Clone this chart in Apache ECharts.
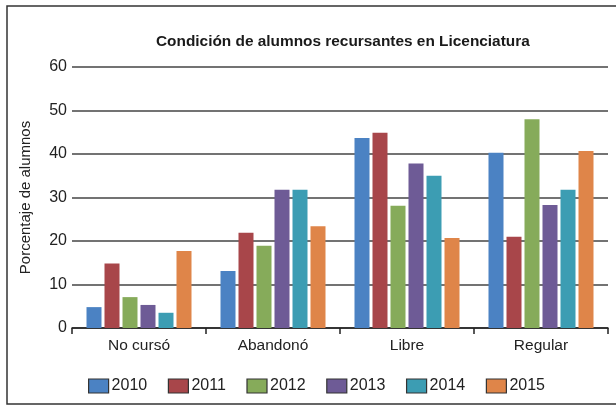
<!DOCTYPE html>
<html>
<head>
    <meta charset="utf-8">
    <title>Condición de alumnos recursantes en Licenciatura</title>
    <script src="https://cdn.jsdelivr.net/npm/echarts@6/dist/echarts.min.js"></script>
    <style>
        html, body { margin: 0; padding: 0; background: #fff; }
        #main { width: 616px; height: 405px; }
    </style>
</head>
<body>
	<div id="main"></div>
	<script type="text/javascript">
		// datos
		var categorias = ['No cursó', 'Abandonó', 'Libre', 'Regular'];
		var anios = ['2010', '2011', '2012', '2013', '2014', '2015'];
		var v2010 = [4.8, 13.1, 43.7, 40.3];
		var v2011 = [14.8, 21.9, 44.9, 21.0];
		var v2012 = [7.1, 18.9, 28.1, 48.0];
		var v2013 = [5.3, 31.8, 37.8, 28.3];
		var v2014 = [3.5, 31.8, 35.0, 31.8];
		var v2015 = [17.7, 23.4, 20.7, 40.7];
		var colores = ['#4b82c3', '#a8464a', '#86ab5a', '#6e5b96', '#3c9db3', '#df8549'];

		var valores = [v2010, v2011, v2012, v2013, v2014, v2015];
		var fuente = 'Liberation Sans, Arial, sans-serif';

		var series = [];
		for (var i = 0; i < anios.length; i++) {
			series.push({
				name: anios[i],
				type: 'bar',
				data: valores[i],
				barWidth: 15,
				barGap: '20%',
				itemStyle: { color: colores[i] }
			});
		}

		var echart = echarts.init(document.getElementById('main'), null, { renderer: 'canvas' });
		echart.setOption({
			animation: false,
			color: colores,
			textStyle: { fontFamily: fuente },
			title: {
				text: 'Condición de alumnos recursantes en Licenciatura',
				left: 151,
				top: 29,
				textStyle: { fontSize: 15.4, fontWeight: 'bold', color: '#1a1a1a', fontFamily: fuente }
			},
			grid: { left: 72, right: 8, top: 67, bottom: 77 },
			legend: {
				data: anios,
				left: 83,
				top: 373,
				icon: 'rect',
				itemWidth: 20,
				itemHeight: 14,
				itemGap: 20.6,
				itemStyle: { borderColor: '#333', borderWidth: 1.2 },
				textStyle: { fontSize: 16, color: '#222', fontFamily: fuente, padding: [0, 0, 0, -2] }
			},
			xAxis: {
				type: 'category',
				data: categorias,
				axisLine: { lineStyle: { color: '#222', width: 1.5 } },
				axisTick: { show: true, length: 6, lineStyle: { color: '#222', width: 1.5 } },
				axisLabel: { fontSize: 15.5, color: '#222', margin: 10, interval: 0 }
			},
			yAxis: {
				type: 'value',
				min: 0,
				max: 60,
				interval: 10,
				name: 'Porcentaje de alumnos',
				nameLocation: 'middle',
				nameGap: 39,
				nameTextStyle: { fontSize: 15, color: '#222' },
				axisLine: { show: false },
				axisTick: { show: false },
				axisLabel: { fontSize: 16, color: '#222', margin: 5 },
				splitLine: { lineStyle: { color: '#444', width: 1.5 } }
			},
			graphic: [{
				type: 'polyline',
				shape: { points: [[640, 6], [7, 6], [7, 404], [640, 404]] },
				style: { fill: 'none', stroke: '#333', lineWidth: 1.5 },
				silent: true
			}],
			series: series
		});
	</script>
</body>
</html>
